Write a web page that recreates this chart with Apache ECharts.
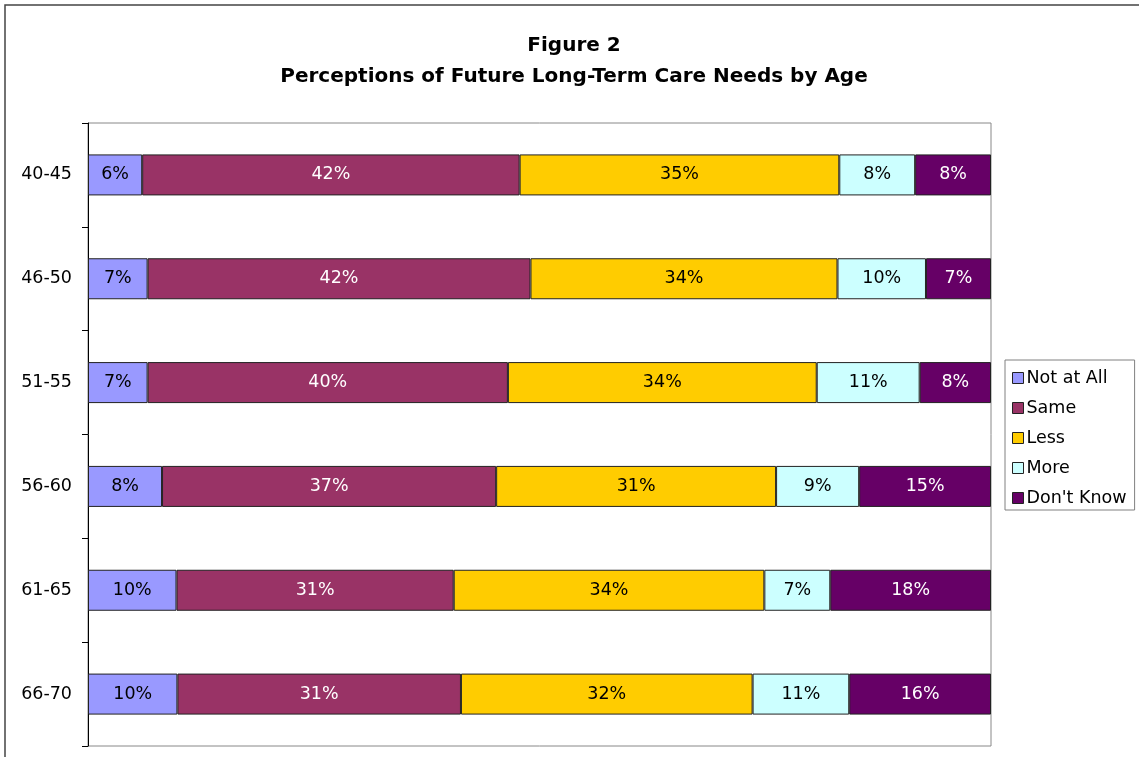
<!DOCTYPE html>
<html>
<head>
<meta charset="utf-8">
<script src="https://cdn.jsdelivr.net/npm/echarts@6/dist/echarts.min.js"></script>
<style>
  html, body { margin: 0; padding: 0; background: #fff; }
  #chart { width: 1139px; height: 757px; }
</style>
</head>
<body>
<div id="chart"></div>
<script>
var ages = ['40-45', '46-50', '51-55', '56-60', '61-65', '66-70'];
var seriesNames = ['Not at All', 'Same', 'Less', 'More', "Don't Know"];

// shares per age group (percent of row)
var notAtAll = [6.0, 6.6, 6.6, 8.2, 9.8, 9.9];
var same     = [41.8, 42.4, 39.9, 37.0, 30.7, 31.4];
var less     = [35.4, 34.0, 34.2, 31.0, 34.4, 32.3];
var more     = [8.4, 9.8, 11.4, 9.2, 7.3, 10.7];
var dontKnow = [8.4, 7.2, 7.9, 14.6, 17.8, 15.7];

var colors = ['#9999FF', '#993366', '#FFCC00', '#CCFFFF', '#660066'];
var labelColors = ['#000', '#fff', '#000', '#000', '#fff'];
var FONT = 'DejaVu Sans';

var chart = echarts.init(document.getElementById('chart'));

var series = [notAtAll, same, less, more, dontKnow].map(function (vals, i) {
    return {
        name: seriesNames[i],
        type: 'bar',
        stack: 'total',
        barWidth: 41,
        data: vals,
        itemStyle: {
            color: colors[i],
            borderColor: '#222',
            borderWidth: 1
        },
        label: {
            show: true,
            position: 'inside',
            color: labelColors[i],
            fontFamily: FONT,
            fontSize: 17.5,
            formatter: function (p) {
                return Math.round(p.value) + '%';
            }
        }
    };
});

var option = {
    backgroundColor: '#fff',
    animation: false,
    title: {
        text: 'Figure 2\nPerceptions of Future Long-Term Care Needs by Age',
        left: 574,
        top: 30,
        padding: 0,
        textAlign: 'center',
        textStyle: {
            fontFamily: FONT,
            fontWeight: 'bold',
            fontSize: 20,
            lineHeight: 31,
            color: '#000'
        }
    },
    legend: {
        orient: 'vertical',
        left: 1005,
        top: 360,
        padding: [8, 8, 2, 7],
        itemGap: 10,
        itemWidth: 11,
        itemHeight: 11,
        itemStyle: { borderColor: '#222', borderWidth: 1 },
        icon: 'rect',
        borderColor: '#808080',
        borderWidth: 1,
        textStyle: {
            fontFamily: FONT,
            fontSize: 17.5,
            lineHeight: 20,
            color: '#000',
            padding: [0, 0, 0, -2]
        },
        data: seriesNames
    },
    graphic: [{
        type: 'rect',
        shape: { x: 5, y: 5, width: 1200, height: 800 },
        style: { fill: 'none', stroke: '#444', lineWidth: 1.5 },
        silent: true
    }],
    grid: {
        left: 88,
        right: 148,
        top: 123,
        bottom: 11,
        show: true,
        borderColor: '#888',
        borderWidth: 1,
        containLabel: false
    },
    xAxis: {
        type: 'value',
        min: 0,
        max: 100,
        show: false,
        splitLine: { show: false }
    },
    yAxis: {
        type: 'category',
        inverse: true,
        data: ages,
        axisLine: { lineStyle: { color: '#000', width: 1 } },
        axisTick: { show: true, length: 6, lineStyle: { color: '#000' } },
        axisLabel: {
            margin: 16,
            color: '#000',
            fontFamily: FONT,
            fontSize: 17.5
        }
    },
    series: series
};
chart.setOption(option);
</script>
</body>
</html>
